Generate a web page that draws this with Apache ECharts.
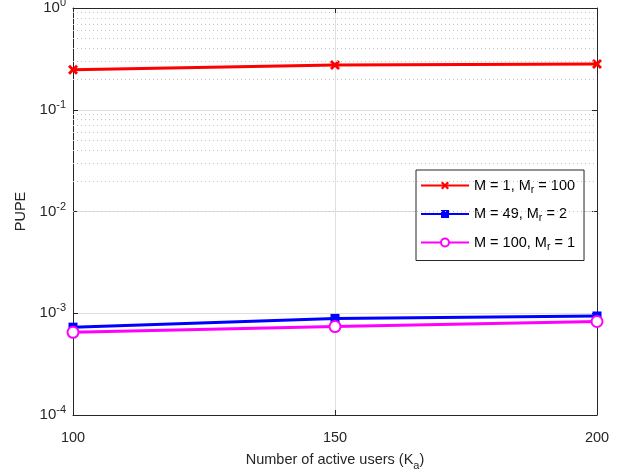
<!DOCTYPE html>
<html>
<head>
<meta charset="utf-8">
<script src="https://cdn.jsdelivr.net/npm/echarts@6/dist/echarts.min.js"></script>
<style>
  html, body { margin: 0; padding: 0; background: #fff; }
  #chart { width: 621px; height: 473px; }
</style>
</head>
<body>
<div id="chart"></div>
<script>
// 数据
const kaValues = [100, 150, 200];
const pupeM1 = [0.247, 0.276, 0.282];
const pupeM49 = [7.3e-4, 8.9e-4, 9.4e-4];
const pupeM100 = [6.5e-4, 7.4e-4, 8.3e-4];
const seriesNames = ['M = 1, M{sub|r} = 100', 'M = 49, M{sub|r} = 2', 'M = 100, M{sub|r} = 1'];
const yDecades = [-4, -3, -2, -1, 0];

// 次网格线 2..9 × 10^k
const minorValues = [];
yDecades.slice(0, -1).forEach(e => {
  for (let m = 2; m <= 9; m++) minorValues.push(m * Math.pow(10, e));
});

const axisColor = '#262626';
const fontFamily = 'Liberation Sans, Arial, sans-serif';
const crossPath = 'path://M0,2L2,0L5,3L8,0L10,2L7,5L10,8L8,10L5,7L2,10L0,8L3,5Z';

const pair = arr => kaValues.map((x, i) => [x, arr[i]]);

const chart = echarts.init(document.getElementById('chart'));

const yLabel = {
  color: axisColor,
  fontFamily,
  fontSize: 15,
  margin: 7,
  formatter: v => '10{sup|' + Math.round(Math.log10(v)) + '}',
  rich: { sup: { fontSize: 11, verticalAlign: 'top', padding: [0, 0, 10, 0], color: axisColor, fontFamily } }
};

const option = {
  animation: false,
  backgroundColor: '#fff',
  grid: { left: 73, right: 24, top: 8, bottom: 58, show: false, outerBoundsMode: 'none', containLabel: false },
  legend: {
    orient: 'vertical',
    left: 416,
    top: 170,
    itemWidth: 48,
    itemHeight: 10,
    itemGap: 11,
    padding: [8, 9, 8, 4],
    borderColor: axisColor,
    borderWidth: 1,
    backgroundColor: '#fff',
    data: seriesNames,
    textStyle: {
      color: '#000',
      fontFamily,
      fontSize: 14.5,
      rich: { sub: { fontSize: 10.5, verticalAlign: 'bottom', padding: [9, 0, 0, 0], fontFamily, color: '#000' } }
    }
  },
  xAxis: [{
    type: 'value',
    min: 100,
    max: 200,
    interval: 50,
    name: 'Number of active users (K{sub|a})',
    nameLocation: 'middle',
    nameGap: 34,
    nameTextStyle: {
      color: axisColor, fontFamily, fontSize: 14.5,
      rich: { sub: { fontSize: 11, verticalAlign: 'bottom', padding: [11, 0, 0, 0], fontFamily, color: axisColor } }
    },
    axisLine: { show: true, lineStyle: { color: axisColor } },
    axisTick: { show: true, inside: true, length: 5, lineStyle: { color: axisColor } },
    axisLabel: { color: axisColor, fontFamily, fontSize: 14.5, margin: 15 },
    splitLine: { show: true, lineStyle: { color: '#dfdfdf', width: 1 } }
  }, {
    type: 'value',
    position: 'top',
    min: 100,
    max: 200,
    interval: 50,
    axisLine: { show: true, lineStyle: { color: axisColor } },
    axisTick: { show: true, inside: true, length: 5, lineStyle: { color: axisColor } },
    axisLabel: { show: false },
    splitLine: { show: false }
  }],
  yAxis: [{
    type: 'log',
    logBase: 10,
    min: 1e-4,
    max: 1,
    name: 'PUPE',
    nameLocation: 'middle',
    nameGap: 45,
    nameTextStyle: { color: axisColor, fontFamily, fontSize: 14.5 },
    axisLine: { show: true, lineStyle: { color: axisColor } },
    axisTick: { show: true, inside: true, length: 5, lineStyle: { color: axisColor } },
    axisLabel: yLabel,
    splitLine: { show: true, lineStyle: { color: '#dfdfdf', width: 1 } }
  }, {
    type: 'log',
    logBase: 10,
    min: 1e-4,
    max: 1,
    position: 'right',
    axisLine: { show: true, lineStyle: { color: axisColor } },
    axisTick: { show: true, inside: true, length: 5, lineStyle: { color: axisColor } },
    axisLabel: { show: false },
    splitLine: { show: false }
  }],
  series: [
    {
      name: 'minor-grid',
      type: 'line',
      data: [],
      silent: true,
      z: 1,
      markLine: {
        silent: true,
        symbol: 'none',
        label: { show: false },
        animation: false,
        lineStyle: { color: '#c4c4c4', type: [1, 3], width: 1 },
        data: minorValues.map(v => ({ yAxis: v }))
      }
    },
    {
      name: seriesNames[0],
      type: 'line',
      data: pair(pupeM1),
      z: 3,
      symbol: crossPath,
      symbolSize: 10,
      lineStyle: { color: '#ff0000', width: 3 },
      itemStyle: { color: '#ff0000' }
    },
    {
      name: seriesNames[1],
      type: 'line',
      data: pair(pupeM49),
      z: 3,
      symbol: 'rect',
      symbolSize: 9,
      lineStyle: { color: '#0000ff', width: 3 },
      itemStyle: { color: '#0000ff' }
    },
    {
      name: seriesNames[2],
      type: 'line',
      data: pair(pupeM100),
      z: 3,
      symbol: 'emptyCircle',
      symbolSize: 11,
      lineStyle: { color: '#ff00ff', width: 3 },
      itemStyle: { color: '#ff00ff', borderWidth: 2.5 }
    }
  ]
};

chart.setOption(option);
</script>
</body>
</html>
